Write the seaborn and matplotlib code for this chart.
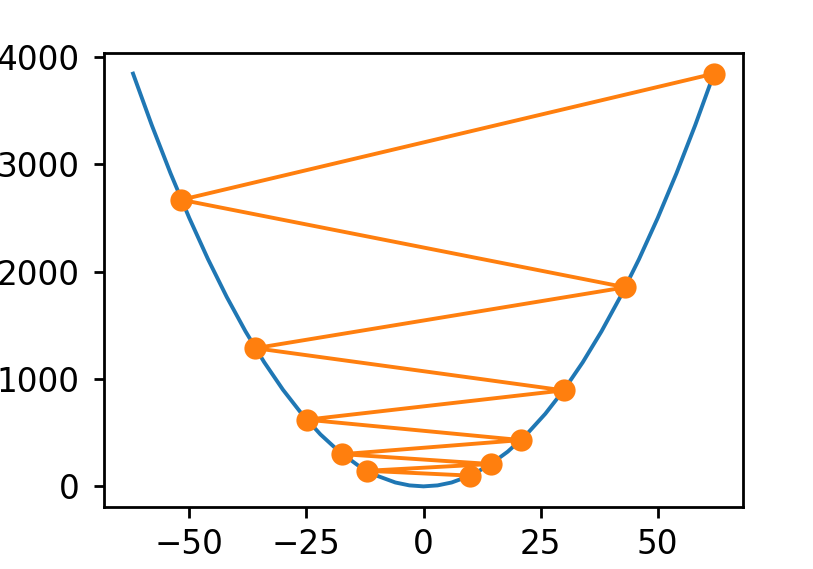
import matplotlib
matplotlib.use("Agg")
import matplotlib.pyplot as plt
import seaborn as sns

# parabola samples (y = x^2)
curve_x = [-62, -58, -54, -50, -46, -42, -38, -34, -30, -26, -22, -18, -14, -10, -6, -3, 0,
           3, 6, 10, 14, 18, 22, 26, 30, 34, 38, 42, 46, 50, 54, 58, 62]
curve_y = [3844, 3364, 2916, 2500, 2116, 1764, 1444, 1156, 900, 676, 484, 324, 196, 100, 36, 9, 0,
           9, 36, 100, 196, 324, 484, 676, 900, 1156, 1444, 1764, 2116, 2500, 2916, 3364, 3844]

# descent steps
step_x = [62, -51.7, 43.1, -35.9, 29.9, -24.9, 20.8, -17.3, 14.4, -12.0, 10.0]
step_y = [3844, 2669, 1854, 1287, 894, 621, 431, 300, 208, 145, 100]

plt.rcParams['font.size'] = 23.5
plt.rcParams['axes.linewidth'] = 2.0
plt.rcParams['xtick.major.width'] = 2.0
plt.rcParams['ytick.major.width'] = 2.0
plt.rcParams['xtick.major.size'] = 7.8
plt.rcParams['ytick.major.size'] = 7.5
plt.rcParams['xtick.major.pad'] = 7
plt.rcParams['ytick.major.pad'] = 10

fig = plt.figure(figsize=(8.13, 5.69), dpi=100)
ax = fig.add_axes([104 / 813, 1 - 507 / 569, (743 - 104) / 813, (507 - 53) / 569])

sns.lineplot(x=curve_x, y=curve_y, sort=False, color='C0', linewidth=2.8, ax=ax)
sns.lineplot(x=step_x, y=step_y, sort=False, color='C1', linewidth=2.8,
             marker='o', markersize=16, markeredgewidth=0, ax=ax)

ax.set_xticks([-50, -25, 0, 25, 50])
ax.set_yticks([0, 1000, 2000, 3000, 4000])

fig.savefig("out.png", dpi=100)
